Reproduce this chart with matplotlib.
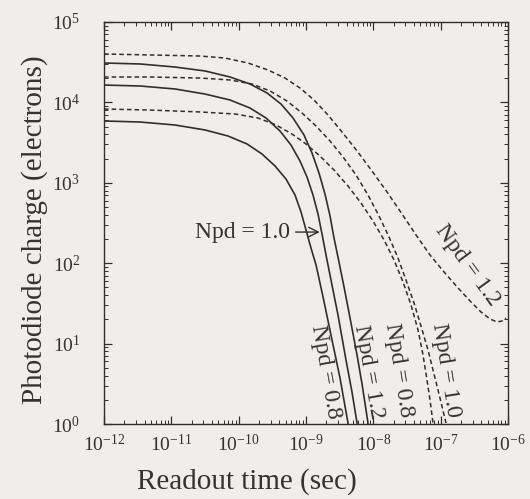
import numpy as np
import matplotlib
matplotlib.use("Agg")
import matplotlib.pyplot as plt
from matplotlib.ticker import LogLocator, NullFormatter

plt.rcParams['font.family'] = ['Liberation Serif', 'DejaVu Serif']
plt.rcParams['mathtext.fontset'] = 'custom'
plt.rcParams['mathtext.rm'] = 'Liberation Serif'
plt.rcParams['mathtext.it'] = 'Liberation Serif:italic'

# ---- data: log10 of readout time [s] and log10 of photodiode charge [electrons] ----
solid_08_logt = [-12.000, -11.465, -10.946, -10.500, -10.158, -9.876, -9.653, -9.460, -9.297, -9.163,
                 -9.074, -9.000, -8.926, -8.851, -8.747, -8.629, -8.495, -8.376]
solid_08_logq = [3.769, 3.756, 3.719, 3.657, 3.582, 3.483, 3.358, 3.209, 3.047, 2.848,
                 2.637, 2.413, 2.189, 1.978, 1.580, 1.107, 0.572, 0.012]

solid_10_logt = [-12.000, -11.465, -10.946, -10.500, -10.129, -9.832, -9.594, -9.386, -9.223, -9.089,
                 -8.985, -8.896, -8.822, -8.762, -8.703, -8.629, -8.525, -8.406, -8.317, -8.242]
solid_10_logq = [4.216, 4.204, 4.167, 4.104, 4.030, 3.930, 3.806, 3.644, 3.470, 3.271,
                 3.072, 2.848, 2.612, 2.363, 2.102, 1.791, 1.356, 0.796, 0.398, 0.012]

solid_12_logt = [-12.000, -11.465, -10.946, -10.500, -10.129, -9.832, -9.579, -9.371, -9.193, -9.030,
                 -8.911, -8.807, -8.718, -8.643, -8.584, -8.510, -8.435, -8.346, -8.242, -8.168, -8.079]
solid_12_logq = [4.490, 4.478, 4.440, 4.391, 4.316, 4.229, 4.117, 3.980, 3.806, 3.595,
                 3.371, 3.122, 2.861, 2.587, 2.313, 2.015, 1.704, 1.318, 0.858, 0.498, 0.012]

dash_08_logt = [-12.000, -11.317, -10.574, -10.054, -9.713, -9.445, -9.208, -9.000, -8.792, -8.584,
                -8.376, -8.183, -8.005, -7.841, -7.693, -7.559, -7.440, -7.336, -7.262, -7.203,
                -7.158, -7.114]
dash_08_logq = [3.918, 3.905, 3.881, 3.856, 3.806, 3.719, 3.607, 3.483, 3.333, 3.159,
                2.960, 2.749, 2.525, 2.289, 2.040, 1.766, 1.480, 1.169, 0.858, 0.547,
                0.299, 0.012]

dash_10_logt = [-12.000, -11.317, -10.574, -10.129, -9.802, -9.535, -9.282, -9.059, -8.851, -8.643,
                -8.450, -8.257, -8.079, -7.916, -7.767, -7.634, -7.515, -7.396, -7.292, -7.188,
                -7.099, -7.010, -6.921]
dash_10_logq = [4.316, 4.316, 4.303, 4.279, 4.229, 4.142, 4.017, 3.868, 3.706, 3.520,
                3.321, 3.097, 2.848, 2.587, 2.326, 2.065, 1.791, 1.505, 1.219, 0.920,
                0.622, 0.323, 0.012]

dash_12_logt = [-12.000, -11.317, -10.574, -10.203, -9.861, -9.564, -9.312, -9.089, -8.881, -8.673,
                -8.465, -8.242, -8.020, -7.797, -7.574, -7.366, -7.158, -6.950, -6.742, -6.564,
                -6.401, -6.267, -6.163, -6.089, -6.030]
dash_12_logq = [4.602, 4.590, 4.577, 4.552, 4.490, 4.403, 4.303, 4.179, 4.030, 3.843,
                3.632, 3.396, 3.147, 2.886, 2.612, 2.351, 2.102, 1.891, 1.692, 1.530,
                1.393, 1.306, 1.269, 1.281, 1.318]

labels = ["Npd = 0.8", "Npd = 1.0", "Npd = 1.2"]

# ---- figure ----
bg = '#efeeeb'
ink = '#2f2f2f'
txt = '#333333'
fig = plt.figure(figsize=(5.30, 4.99), dpi=100, facecolor=bg)
ax = fig.add_axes([104/530, 1-424/499, 404/530, 402/499])
ax.set_facecolor(bg)

def p(t, q):
    return 10.0**np.array(t), 10.0**np.array(q)

for t, q in [(solid_08_logt, solid_08_logq), (solid_10_logt, solid_10_logq), (solid_12_logt, solid_12_logq)]:
    x, y = p(t, q)
    ax.plot(x, y, color=ink, lw=1.2, solid_joinstyle='round')
for t, q in [(dash_08_logt, dash_08_logq), (dash_10_logt, dash_10_logq), (dash_12_logt, dash_12_logq)]:
    x, y = p(t, q)
    ax.plot(x, y, color=ink, lw=1.1, ls=(0, (3.0, 2.0)))

ax.set_xscale('log')
ax.set_yscale('log')
ax.set_xlim(1e-12, 1e-6)
ax.set_ylim(1e0, 1e5)

ax.xaxis.set_major_locator(LogLocator(base=10, numticks=20))
ax.yaxis.set_major_locator(LogLocator(base=10, numticks=20))
ax.xaxis.set_minor_locator(LogLocator(base=10, subs=np.arange(2, 10), numticks=20))
ax.yaxis.set_minor_locator(LogLocator(base=10, subs=np.arange(2, 10), numticks=20))
ax.xaxis.set_minor_formatter(NullFormatter())
ax.yaxis.set_minor_formatter(NullFormatter())
ax.tick_params(which='both', direction='in', top=True, right=True, colors=ink, labelcolor=txt)
ax.tick_params(which='major', length=6, width=0.9, labelsize=14)
ax.tick_params(which='minor', length=3, width=0.7)
ax.tick_params(axis='x', pad=7)
ax.tick_params(axis='y', pad=17)
for s in ax.spines.values():
    s.set_color(ink)
    s.set_linewidth(1.0)

ax.set_xlabel("Readout time (sec)", fontsize=21, color=txt)
ax.set_ylabel("Photodiode charge (electrons)", fontsize=21, color=txt)
ax.xaxis.set_label_coords(0.354, -0.144)
ax.yaxis.set_label_coords(-0.172, 0.483)
ax.xaxis.label.set_va('center')
ax.yaxis.label.set_va('center')

tk = dict(fontsize=17, color=txt, ha='center', va='center', rotation_mode='anchor')
ax.text(1.98e-9, 4.43, labels[0], rotation=-80, **tk)
ax.text(8.6e-9, 4.43, labels[2], rotation=-80, **tk)
ax.text(2.4e-8, 4.7, labels[0], rotation=-81, **tk)
ax.text(1.2e-7, 4.7, labels[1], rotation=-81, **tk)
ax.text(2.46e-7, 95, labels[2], rotation=-54, **tk)
ax.annotate(labels[1], xy=(1.6e-9, 244), xytext=(2.25e-11, 244), fontsize=17, color=txt,
            ha='left', va='center',
            arrowprops=dict(arrowstyle='->', color=ink, lw=1.0, shrinkA=2, shrinkB=0))

fig.savefig("out.png", dpi=100, facecolor=bg)
